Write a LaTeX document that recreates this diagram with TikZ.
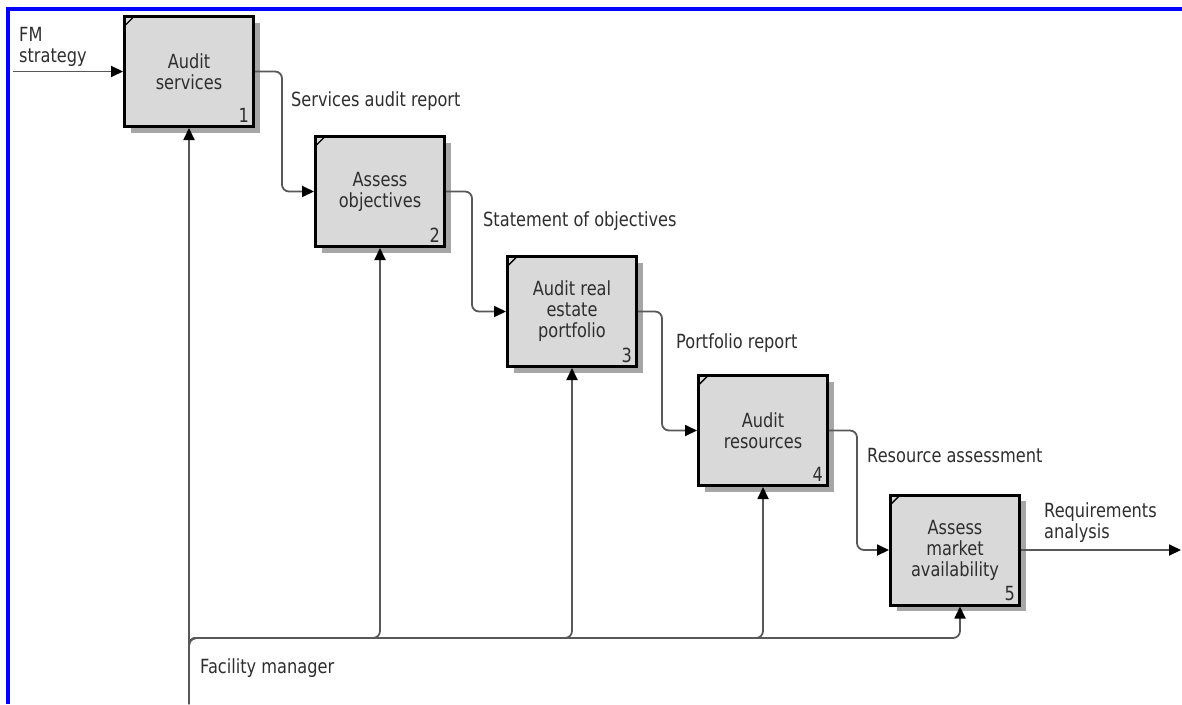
\documentclass[tikz,border=0pt]{standalone}
\usepackage{fontspec}
\setmainfont{DejaVu Sans}[FakeStretch=0.83]
\usetikzlibrary{arrows.meta,calc,shadows}
\definecolor{boxfill}{HTML}{D9D9D9}
\definecolor{shade}{HTML}{A6A6A6}
\definecolor{wire}{HTML}{585858}
\definecolor{ink}{HTML}{2E2E2E}
\definecolor{frameblue}{HTML}{0000FF}
\begin{document}
\begin{tikzpicture}[x=1pt,y=-1pt,
  every node/.style={font=\fontsize{19.5}{21}\selectfont, text=ink},
  proc/.style={draw=black, line width=3pt, fill=boxfill,
    minimum width=129pt, minimum height=110pt, align=center, inner sep=0pt,
    drop shadow={shadow xshift=6pt, shadow yshift=-6pt, fill=shade, opacity=1}},
  num/.style={anchor=base east, inner sep=0pt},
  lbl/.style={anchor=west, align=left, inner sep=0pt},
  wire/.style={draw=wire, line width=1.8pt, rounded corners=7pt,
    -{Triangle[length=12pt,width=11pt,color=black]}},
  tick/.style={draw=black, line width=1.4pt}]
\useasboundingbox (0,0) rectangle (1182,704);
\fill[white] (0,0) rectangle (1182,704);

% frame on the top and left edges
\fill[frameblue] (6,7) rectangle (1182,11);
\fill[frameblue] (6,7) rectangle (10,704);

% activity boxes
\node[proc] (b1) at (189,71.5) {Audit\\services};
\node[proc] (b2) at (380,191.5) {Assess\\objectives};
\node[proc] (b3) at (572,311.5) {Audit real\\estate\\portfolio};
\node[proc] (b4) at (763,430.5) {Audit\\resources};
\node[proc] (b5) at (955,550) {Assess\\market\\availability};

% corner ticks and box numbers
\foreach \b/\n in {b1/1,b2/2,b3/3,b4/4,b5/5}{
  \draw[tick] ($(\b.north west)+(1.5,11)$) -- ($(\b.north west)+(11,1.5)$);
  \node[num] at ($(\b.south east)+(-6,-6)$) {\n};
}

% free ends of the connectors
\coordinate (fmsrc) at (13,71.5);
\coordinate (reqout) at (1181,550);
\coordinate (fmbase) at (189,704);
\coordinate (bus) at (0,638);
\coordinate (b5in) at ($(b5.south)+(5,0)$);

% main flow
\draw[wire] (fmsrc) -- (b1.west);
\draw[wire] (b1.east) -- ++(27,0) |- (b2.west);
\draw[wire] (b2.east) -- ++(26,0) |- (b3.west);
\draw[wire] (b3.east) -- ++(24,0) |- (b4.west);
\draw[wire] (b4.east) -- ++(28,0) |- (b5.west);
\draw[wire] (b5.east) -- (reqout);

% mechanism
\draw[wire] (fmbase) -- (b1.south);
\draw[wire] (fmbase) |- (b2.south |- bus) -- (b2.south);
\draw[wire] (fmbase) |- (b3.south |- bus) -- (b3.south);
\draw[wire] (fmbase) |- (b4.south |- bus) -- (b4.south);
\draw[wire] (fmbase) |- (b5in |- bus) -- (b5in);

% labels
\node[lbl] (lfm) at (19,47) {FM\\strategy};
\node[lbl] (l1) at (291,101) {Services audit report};
\node[lbl] (l2) at (483,221) {Statement of objectives};
\node[lbl] (l3) at (676,343) {Portfolio report};
\node[lbl] (l4) at (867,456) {Resource assessment};
\node[lbl] (l5) at (1044,523) {Requirements\\analysis};
\node[lbl] (l6) at (200,668) {Facility manager};
\end{tikzpicture}
\end{document}
